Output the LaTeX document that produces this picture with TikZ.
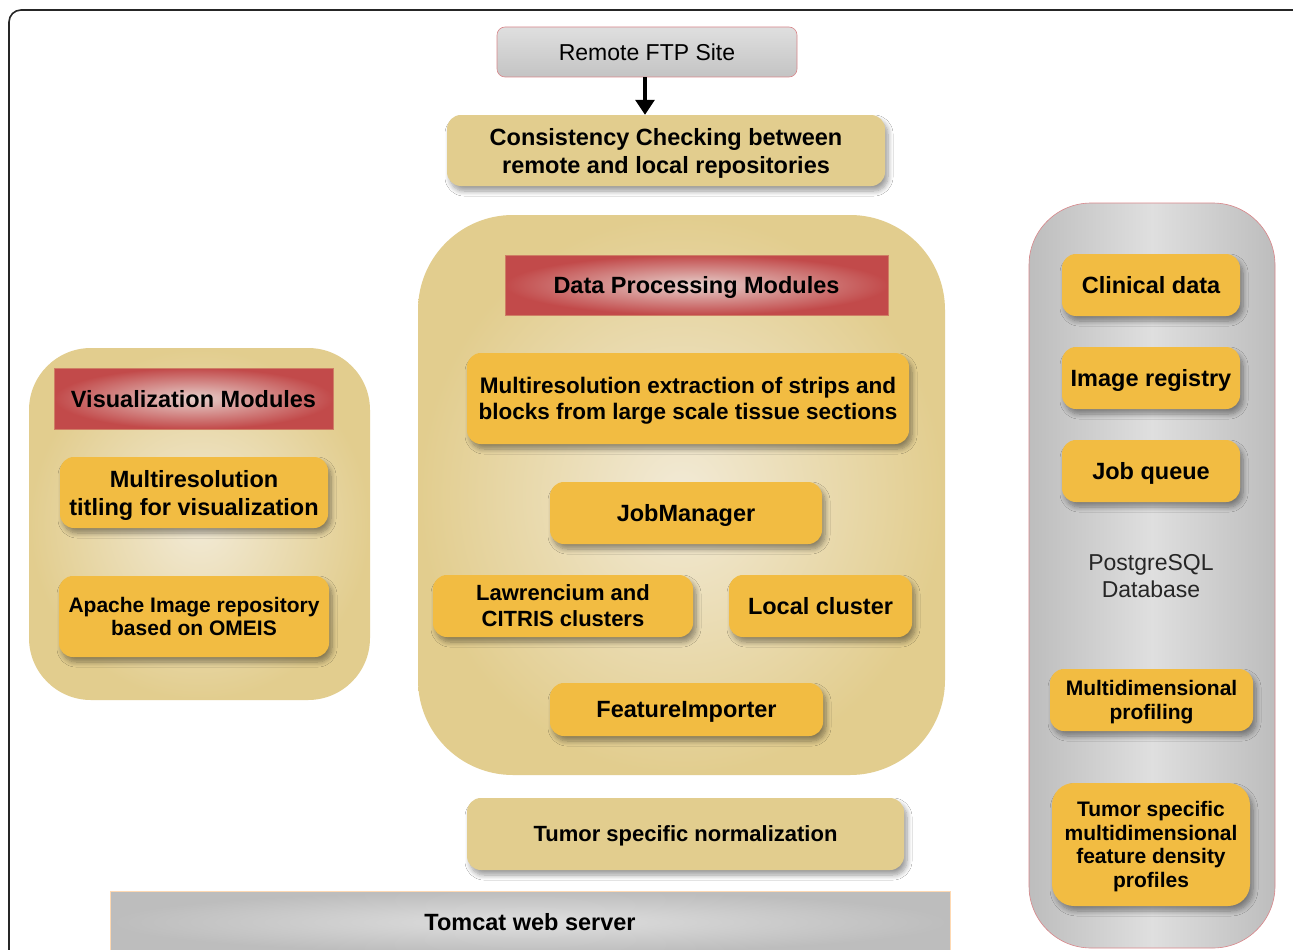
\documentclass[tikz,border=0pt]{standalone}
\usepackage{fontspec}
\setmainfont{Liberation Sans}
\usetikzlibrary{arrows.meta,shadows.blur}
\definecolor{tanc}{HTML}{E2CD8E}
\definecolor{tanlight}{HTML}{F2EAD6}
\definecolor{orng}{HTML}{F2BC42}
\definecolor{hred}{HTML}{C24A4A}
\definecolor{hpink}{HTML}{E6CFCB}
\definecolor{gry}{HTML}{BDBDBD}
\definecolor{gryl}{HTML}{DFDFDF}
\definecolor{rborder}{HTML}{D9868A}
\newcommand\fbigb{\fontsize{23.5}{28}\selectfont\bfseries}
\newcommand\fsmb{\fontsize{21}{23.5}\selectfont\bfseries}
\newcommand\fbigr{\fontsize{23}{27}\selectfont}
\tikzset{
  shd/.style={blur shadow={shadow xshift=3pt, shadow yshift=-5pt, shadow blur steps=8, shadow blur radius=5pt, shadow opacity=40}},
  container/.style={rectangle, inner color=tanlight, outer color=tanc, draw=none},
  header/.style={rectangle, inner color=hpink, outer color=hred, draw=hred!60!tanc, line width=0.6pt, font=\fbigb, text=black, text depth=0pt},
  module/.style={rectangle, rounded corners=14pt, fill=orng, shd, align=center, inner sep=0pt, text=black, text depth=0pt},
  tanbox/.style={rectangle, rounded corners=14pt, fill=tanc, shd, align=center, inner sep=0pt, text=black, font=\fbigb, text depth=0pt},
  graybar/.style={rectangle, inner color=gryl, outer color=gry, draw=orange!30, line width=0.6pt, inner sep=0pt},
}
\begin{document}
\begin{tikzpicture}[x=1pt,y=-1pt]
\clip (0,0) rectangle (1293,950);
\fill[white] (0,0) rectangle (1293,950);
% outer frame
\draw[line width=1.6pt, black!85, rounded corners=12pt] (9,10) rectangle (1305,965);
% remote ftp
\node[rectangle, rounded corners=8pt, top color=gryl, bottom color=gry!90, draw=rborder, line width=0.6pt,
      minimum width=300pt, minimum height=50pt, font=\fbigr] (ftp) at (647,52) {Remote FTP Site};
% consistency
\node[tanbox, minimum width=438pt, minimum height=71pt] (cons) at (666,150.5)
  {Consistency Checking between\\remote and local repositories};
\draw[line width=3.2pt, -{Triangle[width=19pt,length=15pt]}] (ftp.south -| 645,0) -- (cons.north -| 645,0);
% data processing container
\node[container, rounded corners=95pt, minimum width=527pt, minimum height=560pt] (dpc) at (681.5,495) {};
\node[header, minimum width=383pt, minimum height=60pt] (dph) at (696.5,285) {Data Processing Modules};
\node[module, font=\fontsize{22.5}{26}\selectfont\bfseries, minimum width=442pt, minimum height=91pt] (mre) at (688,398.5)
  {Multiresolution extraction of strips and\\blocks from large scale tissue sections};
\node[module, font=\fbigb, minimum width=272pt, minimum height=62pt] (jm) at (686,513) {JobManager};
\node[module, font=\fontsize{22}{26}\selectfont\bfseries, minimum width=260pt, minimum height=62pt] (law) at (563,606)
  {Lawrencium and\\CITRIS clusters};
\node[module, font=\fbigb, minimum width=183pt, minimum height=62pt] (loc) at (820.5,606) {Local cluster};
\node[module, font=\fbigb, minimum width=273pt, minimum height=53pt] (fi) at (686.5,709.5) {FeatureImporter};
% visualization container
\node[container, rounded corners=62pt, minimum width=341pt, minimum height=352pt] (vc) at (199.5,524) {};
\node[header, minimum width=279pt, minimum height=61pt] (vh) at (193.5,398.5) {Visualization Modules};
\node[module, font=\fbigb, minimum width=268pt, minimum height=71pt] (mrt) at (194,492.5)
  {Multiresolution\\titling for visualization};
\node[module, font=\fsmb, minimum width=270pt, minimum height=81pt] (apa) at (194,616.5)
  {Apache Image repository\\based on OMEIS};
% database container
\node[rectangle, rounded corners=62pt, left color=gry, right color=gry, middle color=gryl, draw=rborder, line width=0.6pt,
      minimum width=246pt, minimum height=745pt] (dbc) at (1152,575.5) {};
\node[module, font=\fbigb, minimum width=178pt, minimum height=62pt] (clin) at (1151,285) {Clinical data};
\node[module, font=\fbigb, minimum width=178pt, minimum height=62pt] (imr) at (1151,378) {Image registry};
\node[module, font=\fbigb, minimum width=178pt, minimum height=62pt] (jq) at (1151,471) {Job queue};
\node[align=center, font=\fbigr, text=black!85] (pg) at (1151,576) {PostgreSQL\\Database};
\node[module, font=\fsmb, minimum width=203pt, minimum height=62pt] (md) at (1151.5,700)
  {Multidimensional\\profiling};
\node[module, rounded corners=22pt, font=\fsmb, minimum width=198pt, minimum height=123pt] (tsm) at (1151,844.5)
  {Tumor specific\\multidimensional\\feature density\\profiles};
% normalization and tomcat
\node[tanbox, font=\fontsize{22}{26}\selectfont\bfseries, minimum width=437pt, minimum height=72pt] (tsn) at (685.5,834)
  {Tumor specific normalization};
\node[graybar, font=\fbigb, minimum width=840pt, minimum height=62pt] (tom) at (530,922) {Tomcat web server};
\end{tikzpicture}
\end{document}
